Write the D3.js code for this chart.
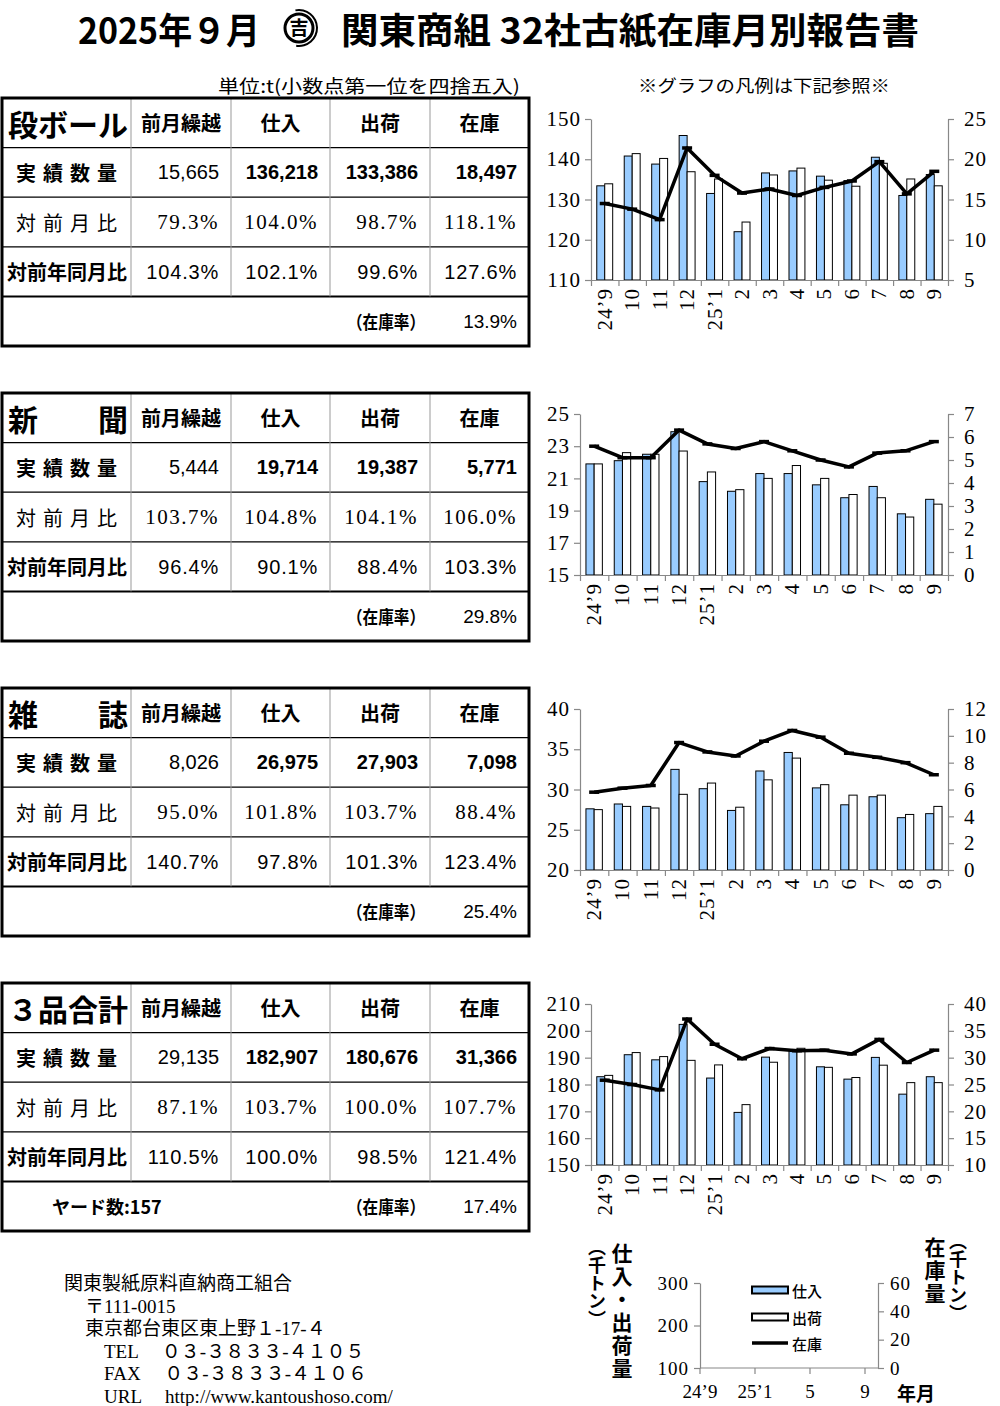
<!DOCTYPE html>
<html>
<head>
<meta charset="utf-8">
<script src="https://cdn.jsdelivr.net/npm/d3@7"></script>
<style>
body { margin: 0; background: #fff; }
</style>
</head>
<body>
<svg id="page" width="1000" height="1406"></svg>
<script>
// months on the x axis
var months = ["24’9", "10", "11", "12", "25’1", "2", "3", "4", "5", "6", "7", "8", "9"];

var danIn    = [133.4, 140.8, 138.8, 145.9, 131.5, 122.0, 136.6, 137.1, 135.8, 134.7, 140.5, 131.0, 136.2];
var danOut   = [133.9, 141.4, 140.2, 136.9, 135.1, 124.4, 136.1, 137.8, 134.8, 133.3, 139.0, 135.1, 133.4];
var danStock = [14.5, 13.8, 12.5, 21.4, 18.0, 15.8, 16.3, 15.5, 16.5, 17.3, 19.7, 15.7, 18.5];

var shinIn    = [21.9, 22.1, 22.5, 23.9, 20.8, 20.2, 21.3, 21.3, 20.6, 19.8, 20.5, 18.8, 19.7];
var shinOut   = [21.9, 22.6, 22.5, 22.7, 21.4, 20.3, 21.0, 21.8, 21.0, 20.0, 19.8, 18.6, 19.4];
var shinStock = [5.6, 5.1, 5.1, 6.3, 5.7, 5.5, 5.8, 5.4, 5.0, 4.7, 5.3, 5.4, 5.8];

var zasIn    = [27.6, 28.2, 27.9, 32.5, 30.1, 27.4, 32.3, 34.6, 30.2, 28.1, 29.1, 26.5, 27.0];
var zasOut   = [27.5, 27.9, 27.7, 29.4, 30.8, 27.8, 31.2, 33.9, 30.6, 29.3, 29.3, 26.9, 27.9];
var zasStock = [5.8, 6.1, 6.3, 9.5, 8.8, 8.5, 9.6, 10.4, 9.9, 8.7, 8.4, 8.0, 7.1];

var totIn    = [182.9, 191.1, 189.2, 202.4, 182.4, 169.6, 190.2, 193.0, 186.6, 182.0, 190.1, 176.4, 182.9];
var totOut   = [183.4, 191.9, 190.4, 189.0, 187.3, 172.5, 188.3, 193.5, 186.4, 182.6, 187.2, 180.7, 180.7];
var totStock = [25.8, 25.0, 24.0, 37.2, 32.5, 29.8, 31.7, 31.3, 31.4, 30.7, 33.4, 29.1, 31.4];

// axis ticks
var danLTicks = [110, 120, 130, 140, 150],  danRTicks = [5, 10, 15, 20, 25];
var shinLTicks = [15, 17, 19, 21, 23, 25],  shinRTicks = [0, 1, 2, 3, 4, 5, 6, 7];
var zasLTicks = [20, 25, 30, 35, 40],       zasRTicks = [0, 2, 4, 6, 8, 10, 12];
var totLTicks = [150, 160, 170, 180, 190, 200, 210], totRTicks = [10, 15, 20, 25, 30, 35, 40];

// table texts
var tableNames = ["段ボール", "新聞", "雑誌", "３品合計"];
var colHeads = ["前月繰越", "仕入", "出荷", "在庫"];
var rowHeads = ["実績数量", "対前月比", "対前年同月比"];

var danQty = ["15,665", "136,218", "133,386", "18,497"];
var danMoM = ["79.3%", "104.0%", "98.7%", "118.1%"];
var danYoY = ["104.3%", "102.1%", "99.6%", "127.6%"];
var shinQty = ["5,444", "19,714", "19,387", "5,771"];
var shinMoM = ["103.7%", "104.8%", "104.1%", "106.0%"];
var shinYoY = ["96.4%", "90.1%", "88.4%", "103.3%"];
var zasQty = ["8,026", "26,975", "27,903", "7,098"];
var zasMoM = ["95.0%", "101.8%", "103.7%", "88.4%"];
var zasYoY = ["140.7%", "97.8%", "101.3%", "123.4%"];
var totQty = ["29,135", "182,907", "180,676", "31,366"];
var totMoM = ["87.1%", "103.7%", "100.0%", "107.7%"];
var totYoY = ["110.5%", "100.0%", "98.5%", "121.4%"];
var stockRates = ["13.9%", "29.8%", "25.4%", "17.4%"];
var yardText = "ヤード数:157";

// legend chart
var legendNames = ["仕入", "出荷", "在庫"];
var legendLTicks = [100, 200, 300], legendRTicks = [0, 20, 40, 60];
var legendXIdx = [0, 4, 8, 12], legendXLab = ["24’9", "25’1", "5", "9"];

var footerLines = ["関東製紙原料直納商工組合", "〒111-0015", "東京都台東区東上野１-17-４",
  "TEL　 ０３-３８３３-４１０５", "FAX　 ０３-３８３３-４１０６", "URL　 http://www.kantoushoso.com/"];

var goth = "'Noto Sans CJK JP', sans-serif";
var serif = "'Liberation Serif', 'Noto Sans CJK JP', serif";
var sans = "'Liberation Sans', Arial, sans-serif";
var blue = "#99ccff";
var fmt = d3.format("~g");

var svg = d3.select("#page");

// ---- title
svg.append("text").attr("x", 78).attr("y", 44)
  .attr("font-family", goth).attr("font-weight", 700).attr("font-size", 36)
  .attr("textLength", 182).attr("lengthAdjust", "spacingAndGlyphs")
  .text("2025年９月");
svg.append("text").attr("x", 341).attr("y", 44)
  .attr("font-family", goth).attr("font-weight", 700).attr("font-size", 36)
  .attr("textLength", 578).attr("lengthAdjust", "spacingAndGlyphs")
  .text("関東商組 32社古紙在庫月別報告書");

// little round logo
var logo = svg.append("g").attr("transform", "translate(299,28)");
logo.append("circle").attr("r", 14).attr("fill", "none").attr("stroke", "#000").attr("stroke-width", 3);
logo.append("path")
  .attr("d", d3.arc()({innerRadius: 17, outerRadius: 19, startAngle: -0.2, endAngle: Math.PI * 1.05}))
  .attr("fill", "#000");
logo.append("text").attr("y", 7).attr("text-anchor", "middle")
  .attr("font-family", goth).attr("font-weight", 700).attr("font-size", 19).text("吉");

svg.append("text").attr("x", 218).attr("y", 93)
  .attr("font-family", goth).attr("font-size", 18)
  .attr("textLength", 302).attr("lengthAdjust", "spacingAndGlyphs")
  .text("単位:t(小数点第一位を四捨五入)");
svg.append("text").attr("x", 638).attr("y", 92)
  .attr("font-family", goth).attr("font-size", 17)
  .attr("textLength", 252).attr("lengthAdjust", "spacingAndGlyphs")
  .text("※グラフの凡例は下記参照※");

// ---- tables
var colX = [2, 131, 231, 330, 430, 529];
var tableRows = [
  [danQty, danMoM, danYoY],
  [shinQty, shinMoM, shinYoY],
  [zasQty, zasMoM, zasYoY],
  [totQty, totMoM, totYoY]
];

function drawTable(name, rows, rate, i) {
  var top = 98 + 295 * i;
  var rowY = d3.range(6).map(function(k) { return top + k * 49.6; });
  var g = svg.append("g");

  rowY.slice(1, 5).forEach(function(y, k) {
    g.append("line").attr("x1", colX[0]).attr("x2", colX[5]).attr("y1", y).attr("y2", y)
      .attr("stroke", "#000").attr("stroke-width", k == 3 ? 2 : 1.3);
  });
  colX.slice(1, 5).forEach(function(x) {
    g.append("line").attr("x1", x).attr("x2", x).attr("y1", top).attr("y2", rowY[4])
      .attr("stroke", "#999").attr("stroke-width", 1);
  });
  g.append("rect").attr("x", colX[0]).attr("y", top).attr("width", colX[5] - colX[0]).attr("height", rowY[5] - top)
    .attr("fill", "none").attr("stroke", "#000").attr("stroke-width", 3);

  var mid = function(k) { return (rowY[k] + rowY[k + 1]) / 2; };

  // name cell, spread to the edges
  g.append("text").attr("x", 8).attr("y", mid(0)).attr("dominant-baseline", "central")
    .attr("font-family", goth).attr("font-weight", 700).attr("font-size", 30)
    .attr("textLength", 120).attr("lengthAdjust", "spacing").text(name);

  colHeads.forEach(function(h, c) {
    g.append("text").attr("x", (colX[c + 1] + colX[c + 2]) / 2).attr("y", mid(0))
      .attr("text-anchor", "middle").attr("dominant-baseline", "central")
      .attr("font-family", goth).attr("font-weight", 700).attr("font-size", 20)
      .text(h);
  });

  // row heads
  g.append("text").attr("x", 70).attr("y", mid(1)).attr("text-anchor", "middle").attr("dominant-baseline", "central")
    .attr("font-family", goth).attr("font-weight", 700).attr("font-size", 20).attr("letter-spacing", 7)
    .text(rowHeads[0]);
  g.append("text").attr("x", 70).attr("y", mid(2)).attr("text-anchor", "middle").attr("dominant-baseline", "central")
    .attr("font-family", goth).attr("font-weight", 400).attr("font-size", 20).attr("letter-spacing", 7)
    .text(rowHeads[1]);
  g.append("text").attr("x", 67).attr("y", mid(3)).attr("text-anchor", "middle").attr("dominant-baseline", "central")
    .attr("font-family", goth).attr("font-weight", 700).attr("font-size", 20)
    .text(rowHeads[2]);

  rows.forEach(function(vals, r) {
    vals.forEach(function(v, c) {
      var t = g.append("text").attr("x", colX[c + 2] - 12).attr("y", mid(r + 1))
        .attr("text-anchor", "end").attr("dominant-baseline", "central").text(v);
      if (r == 0) t.attr("font-family", sans).attr("font-size", 20).attr("font-weight", c == 0 ? 400 : 700);
      if (r == 1) t.attr("font-family", serif).attr("font-size", 21).attr("letter-spacing", 1.5);
      if (r == 2) t.attr("font-family", sans).attr("font-size", 20).attr("letter-spacing", 0.8);
    });
  });

  g.append("text").attr("x", 386).attr("y", mid(4)).attr("text-anchor", "middle").attr("dominant-baseline", "central")
    .attr("font-family", goth).attr("font-weight", 700).attr("font-size", 18)
    .attr("textLength", 78).attr("lengthAdjust", "spacingAndGlyphs").text("（在庫率）");
  g.append("text").attr("x", 517).attr("y", mid(4)).attr("text-anchor", "end").attr("dominant-baseline", "central")
    .attr("font-family", sans).attr("font-size", 19).text(rate);
  if (i == 3) {
    g.append("text").attr("x", 52).attr("y", mid(4)).attr("dominant-baseline", "central")
      .attr("font-family", goth).attr("font-weight", 700).attr("font-size", 18).text(yardText);
  }
}

tableNames.forEach(function(n, i) { drawTable(n, tableRows[i], stockRates[i], i); });

// ---- charts
var charts = [
  {left: 591, inV: danIn, outV: danOut, stock: danStock, lT: danLTicks, rT: danRTicks},
  {left: 580, inV: shinIn, outV: shinOut, stock: shinStock, lT: shinLTicks, rT: shinRTicks},
  {left: 580, inV: zasIn, outV: zasOut, stock: zasStock, lT: zasLTicks, rT: zasRTicks},
  {left: 591, inV: totIn, outV: totOut, stock: totStock, lT: totLTicks, rT: totRTicks}
];

function styleAxis(a) {
  a.select(".domain").attr("stroke", "#888").attr("stroke-width", 1.2);
  a.selectAll(".tick line").attr("stroke", "#888").attr("stroke-width", 1.2);
  a.selectAll("text").attr("font-family", serif).attr("font-size", 21)
    .attr("letter-spacing", 1).attr("fill", "#000");
}

function drawChart(c, i) {
  var top = 98 + 295 * i + 21, bottom = top + 161, right = 948;
  var x = d3.scaleBand().domain(months).range([c.left, right]);
  var yL = d3.scaleLinear().domain(d3.extent(c.lT)).range([bottom, top]);
  var yR = d3.scaleLinear().domain(d3.extent(c.rT)).range([bottom, top]);
  var bw = x.bandwidth(), barW = bw * 0.29;
  var g = svg.append("g");

  g.selectAll(".bin").data(c.inV).enter().append("rect")
    .attr("x", function(d, j) { return x(months[j]) + bw / 2 - barW; })
    .attr("y", function(d) { return yL(d); })
    .attr("width", barW)
    .attr("height", function(d) { return bottom - yL(d); })
    .attr("fill", blue).attr("stroke", "#000").attr("stroke-width", 1);
  g.selectAll(".bout").data(c.outV).enter().append("rect")
    .attr("x", function(d, j) { return x(months[j]) + bw / 2; })
    .attr("y", function(d) { return yL(d); })
    .attr("width", barW)
    .attr("height", function(d) { return bottom - yL(d); })
    .attr("fill", "#fff").attr("stroke", "#000").attr("stroke-width", 1);

  var aL = g.append("g").attr("transform", "translate(" + c.left + ",0)")
    .call(d3.axisLeft(yL).tickValues(c.lT).tickFormat(fmt).tickSize(6).tickSizeOuter(0).tickPadding(4));
  styleAxis(aL);
  var aR = g.append("g").attr("transform", "translate(" + right + ",0)")
    .call(d3.axisRight(yR).tickValues(c.rT).tickFormat(fmt).tickSize(6).tickSizeOuter(0).tickPadding(10));
  styleAxis(aR);
  var xi = d3.scaleLinear().domain([0, months.length]).range([c.left, right]);
  var aX = g.append("g").attr("transform", "translate(0," + bottom + ")")
    .call(d3.axisBottom(xi).tickValues(d3.range(months.length + 1)).tickFormat("").tickSize(6).tickSizeOuter(0));
  styleAxis(aX);

  g.selectAll(".mlab").data(months).enter().append("text")
    .attr("transform", function(d) { return "translate(" + (x(d) + bw / 2) + "," + (bottom + 8) + ") rotate(-90)"; })
    .attr("text-anchor", "end").attr("dominant-baseline", "central")
    .attr("font-family", serif).attr("font-size", 21).attr("letter-spacing", 1)
    .text(function(d) { return d; });

  var line = d3.line()
    .x(function(d, j) { return x(months[j]) + bw / 2; })
    .y(function(d) { return yR(d); });
  g.append("path").datum(c.stock).attr("d", line)
    .attr("fill", "none").attr("stroke", "#000").attr("stroke-width", 3.5).attr("stroke-linejoin", "round");
  g.selectAll(".mk").data(c.stock).enter().append("line")
    .attr("x1", function(d, j) { return x(months[j]) + bw / 2 - 5; })
    .attr("x2", function(d, j) { return x(months[j]) + bw / 2 + 5; })
    .attr("y1", function(d) { return yR(d); })
    .attr("y2", function(d) { return yR(d); })
    .attr("stroke", "#000").attr("stroke-width", 3.5);
}

charts.forEach(drawChart);

// ---- legend chart (bottom right)
var lg = svg.append("g");
var lyL = d3.scaleLinear().domain([100, 300]).range([1368, 1283]);
var lyR = d3.scaleLinear().domain([0, 60]).range([1368, 1283]);
var lx = d3.scaleLinear().domain([0, 12]).range([700, 865]);
var la = lg.append("g").attr("transform", "translate(700,0)")
  .call(d3.axisLeft(lyL).tickValues(legendLTicks).tickSize(6).tickSizeOuter(0).tickPadding(5));
styleAxis(la);
var lr = lg.append("g").attr("transform", "translate(878,0)")
  .call(d3.axisRight(lyR).tickValues(legendRTicks).tickSize(6).tickSizeOuter(0).tickPadding(6));
styleAxis(lr);
lg.selectAll("text").attr("font-size", 19);
lg.append("line").attr("x1", 700).attr("x2", 878).attr("y1", 1368).attr("y2", 1368)
  .attr("stroke", "#888").attr("stroke-width", 1.2);
lg.selectAll(".lxt").data(legendXIdx).enter().append("line")
  .attr("x1", function(d) { return lx(d); }).attr("x2", function(d) { return lx(d); })
  .attr("y1", 1368).attr("y2", 1374).attr("stroke", "#888").attr("stroke-width", 1.2);
lg.selectAll(".lxl").data(legendXIdx).enter().append("text")
  .attr("x", function(d) { return lx(d); }).attr("y", 1398).attr("text-anchor", "middle")
  .attr("font-family", serif).attr("font-size", 19).attr("fill", "#000")
  .text(function(d, j) { return legendXLab[j]; });

// legend keys
var keyY = [1290, 1317, 1343];
legendNames.forEach(function(n, k) {
  if (k < 2) {
    lg.append("rect").attr("x", 752).attr("y", keyY[k] - 3.5).attr("width", 36).attr("height", 7)
      .attr("fill", k == 0 ? blue : "#fff").attr("stroke", "#000").attr("stroke-width", 2);
  } else {
    lg.append("line").attr("x1", 752).attr("x2", 788).attr("y1", keyY[k]).attr("y2", keyY[k])
      .attr("stroke", "#000").attr("stroke-width", 3.5);
  }
  lg.append("text").attr("x", 792).attr("y", keyY[k]).attr("dominant-baseline", "central")
    .attr("font-family", goth).attr("font-weight", 500).attr("font-size", 15).text(n);
});

// vertical axis titles
function vtext(x, y, s, size, sp) {
  svg.append("text").attr("x", x).attr("y", y)
    .style("writing-mode", "vertical-rl")
    .attr("font-family", goth).attr("font-weight", 700).attr("font-size", size)
    .attr("letter-spacing", sp).text(s);
}
vtext(622, 1243, "仕入・出荷量", 21, 2);
vtext(597, 1238, "（千トン）", 18, 0);
vtext(935, 1237, "在庫量", 21, 2);
vtext(958, 1232, "（千トン）", 18, 0);
svg.append("text").attr("x", 897).attr("y", 1401)
  .attr("font-family", goth).attr("font-weight", 700).attr("font-size", 19).text("年月");

// ---- footer
var footX = [64, 85, 85, 104, 104, 104];
footerLines.forEach(function(s, k) {
  svg.append("text").attr("x", footX[k]).attr("y", 1290 + k * 22.5)
    .attr("font-family", serif).attr("font-size", 19)
    .attr("xml:space", "preserve").text(s);
});
</script>
</body>
</html>
